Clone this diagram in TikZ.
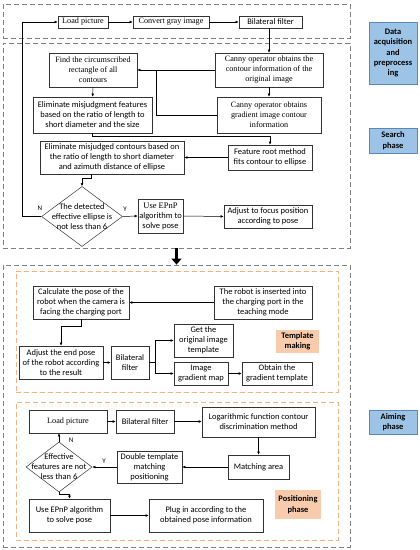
\documentclass[tikz,border=0pt]{standalone}
\usepackage{fontspec}
\setmainfont{Liberation Serif}
\newfontfamily\sansf{Carlito}
\usetikzlibrary{arrows.meta,shapes.geometric,calc}
\definecolor{bluefill}{HTML}{9DC3E6}
\definecolor{blueline}{HTML}{5B87B5}
\definecolor{orfill}{HTML}{F8CBAD}
\definecolor{orline}{HTML}{F4B183}
\definecolor{dgray}{HTML}{7F7F7F}
\tikzset{
  txt/.style={font=\sansf\fontsize{8.5}{10}\selectfont},
  serif/.style={font=\rmfamily\fontsize{8.2}{10}\selectfont},
  box/.style={draw=black!80, line width=0.5pt, align=center, inner sep=1bp, txt},
  sbox/.style={box, serif},
  dia/.style={diamond, draw=black!80, line width=0.5pt, inner sep=0pt},
  grayc/.style={draw=dgray, line width=0.8pt, dash pattern=on 5bp off 3bp, inner sep=0pt},
  orc/.style={draw=orline, line width=0.8pt, dash pattern=on 5bp off 3bp, inner sep=0pt},
  side/.style={fill=bluefill, draw=blueline, line width=0.5pt, align=center, inner sep=0pt, font=\sansf\bfseries\fontsize{8.5}{10.5}\selectfont},
  oside/.style={fill=orfill, align=center, inner sep=0pt, font=\sansf\bfseries\fontsize{8.5}{10.5}\selectfont},
  arr/.style={-{Latex[length=3.2bp,width=2.8bp]}, line width=0.5pt, black},
  ln/.style={line width=0.5pt, black},
  yn/.style={font=\sansf\fontsize{7}{8}\selectfont, inner sep=0pt},
}
\begin{document}
\begin{tikzpicture}[x=1bp,y=-1bp]
\useasboundingbox (0,0) rectangle (419,550);
% containers
\node[grayc, minimum width=347bp, minimum height=34bp] (c1) at (176.5,21) {};
\node[grayc, minimum width=347bp, minimum height=205bp] (c2) at (176.5,145.5) {};
\node[grayc, minimum width=347bp, minimum height=282bp] (c3) at (176.5,406) {};
\node[orc, minimum width=322bp, minimum height=121bp] (o1) at (177,331.5) {};
\node[orc, minimum width=322bp, minimum height=138bp] (o2) at (177,471) {};
% side labels
\node[side, minimum width=48bp, minimum height=62bp] (s1) at (393,53) {Data\\acquisition\\and\\preprocess\\ing};
\node[side, minimum width=48bp, minimum height=25bp] (s2) at (393,140.5) {Search\\phase};
\node[side, minimum width=48bp, minimum height=24bp] (s3) at (393,422) {Aiming\\phase};
% stage 1
\node[sbox, minimum width=50bp, minimum height=12bp] (load1) at (83,22) {Load picture};
\node[sbox, minimum width=76bp, minimum height=12bp] (gray) at (171,22) {Convert gray image};
\node[box, minimum width=63bp, minimum height=12bp] (bil1) at (270.5,22) {Bilateral filter};
% stage 2
\node[sbox, minimum width=88bp, minimum height=34bp] (find) at (93,70) {Find the circumscribed\\rectangle of all\\contours};
\node[sbox, minimum width=108bp, minimum height=34bp] (canny1) at (269,70) {Canny operator obtains the\\contour information of the\\original image};
\node[sbox, minimum width=104bp, minimum height=36bp] (canny2) at (269,115) {Canny operator obtains\\gradient image contour\\information};
\node[box, minimum width=119bp, minimum height=36bp] (elim1) at (92.5,115) {Eliminate misjudgment features\\based on the ratio of length to\\short diameter and the size};
\node[box, minimum width=84bp, minimum height=25bp] (feat) at (270,157.5) {Feature root method\\fits contour to ellipse};
\node[box, minimum width=144bp, minimum height=33bp] (elim2) at (112,157.5) {Eliminate misjudged contours based on\\the ratio of length to short diameter\\and azimuth distance of ellipse};
\node[dia, minimum width=81bp, minimum height=60bp, label={[txt, align=center]center:The detected\\effective ellipse is\\not less than 6}] (d1) at (82,216.5) {};
\node[box, minimum width=45bp, minimum height=34bp] (epnp1) at (160.5,216) {{\rmfamily Use EPnP}\\algorithm to\\solve pose};
\node[box, minimum width=88bp, minimum height=23bp] (adj1) at (268,216.5) {Adjust to focus position\\according to pose};
% template making
\node[box, minimum width=96bp, minimum height=33bp] (calc) at (81,302.5) {Calculate the pose of the\\robot when the camera is\\facing the charging port};
\node[box, minimum width=98bp, minimum height=33bp] (robot) at (263,302.5) {The robot is inserted into\\the charging port in the\\teaching mode};
\node[box, minimum width=84bp, minimum height=33bp] (adj2) at (61,362.5) {Adjust the end pose\\of the robot according\\to the result};
\node[box, minimum width=38bp, minimum height=33bp] (bil2) at (130,362.5) {Bilateral\\filter};
\node[box, minimum width=59bp, minimum height=33bp] (orig) at (203.5,340.5) {Get the\\original image\\template};
\node[box, minimum width=54bp, minimum height=23bp] (grad) at (201,373.5) {Image\\gradient map};
\node[box, minimum width=70bp, minimum height=23bp] (obt) at (277,373.5) {Obtain the\\gradient template};
\node[oside, minimum width=43bp, minimum height=23bp] (tm) at (297.5,341.5) {Template\\making};
% positioning
\node[sbox, minimum width=78bp, minimum height=23bp] (load2) at (68,421.5) {Load picture};
\node[box, minimum width=58bp, minimum height=23bp] (bil3) at (145,421.5) {Bilateral filter};
\node[box, minimum width=113bp, minimum height=30bp] (log) at (258.5,422) {Logarithmic function contour\\discrimination method};
\node[box, minimum width=61bp, minimum height=24bp] (match) at (258.5,467) {Matching area};
\node[box, minimum width=65bp, minimum height=32bp] (dbl) at (149.5,467) {Double template\\matching\\positioning};
\node[dia, minimum width=66bp, minimum height=50bp, label={[txt, align=center]center:Effective\\features are not\\less than 6}] (d2) at (59,467) {};
\node[box, minimum width=81bp, minimum height=33bp] (epnp2) at (69.5,515.5) {Use EPnP algorithm\\to solve pose};
\node[box, minimum width=114bp, minimum height=33bp] (plug) at (206,515.5) {Plug in according to the\\obtained pose information};
\node[oside, minimum width=46bp, minimum height=29bp] (pp) at (298,504.5) {Positioning\\phase};
% connectors stage 1/2
\draw[arr] (load1) -- (gray);
\draw[arr] (gray) -- (bil1);
\draw[arr] (bil1.south -| canny1.north) -- (canny1.north);
\draw[arr] (canny1) -- (find);
\coordinate (j1) at (156,70);
\draw[ln] (canny2.west) -| (j1);
\draw[arr] (canny1) -- (canny2);
\draw[arr] (find) -- (elim1);
\draw[arr] (elim1.south) -- ++(0,3) -| (feat.north);
\draw[arr] (feat) -- (elim2);
\draw[arr] ($(elim2.south)+(-21,0)$) -- ++(0,4) -| (d1.north);
\draw[arr] (d1.east) -- (epnp1.west);
\draw[arr] (epnp1.east) -- (adj1.west);
\draw[arr] (d1.west) -- ++(-19,0) |- (load1.west);
\node[yn] (n1) at (40,208) {N};
\node[yn] (y1) at (125,209) {Y};
% big arrow
\draw[line width=3.5bp, -{Triangle[length=6bp,width=10bp]}] (c2.south) -- (c3.north);
% template making
\draw[arr] (robot) -- (calc);
\draw[arr] (calc.south) -- ++(0,7) -| (adj2.north);
\draw[arr] (adj2) -- (bil2);
\coordinate (br) at (155,362.5);
\draw[ln] (bil2.east) -- (br);
\draw[arr] (br) |- (orig.west);
\draw[arr] (br) |- (grad.west);
\draw[arr] (grad) -- (obt);
% positioning
\draw[arr] (load2) -- (bil3);
\draw[arr] (bil3) -- (log.west |- bil3);
\draw[arr] (log.south -| match.north) -- (match.north);
\draw[arr] (match) -- (dbl);
\draw[arr] (dbl.west) -- (d2.east);
\draw[arr] (d2.north) -- (d2.north |- load2.south);
\draw[arr] (d2.south) -- ++(0,2) -| (epnp2.north);
\draw[arr] (epnp2) -- (plug);
\node[yn] (n2) at (71,440) {N};
\node[yn] (y2) at (104,461) {Y};
\end{tikzpicture}
\end{document}
